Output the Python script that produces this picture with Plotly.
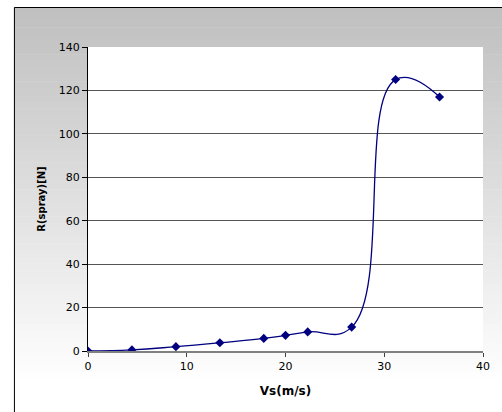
import plotly.graph_objects as go

# Data
vs = [0, 4.45, 8.9, 13.35, 17.8, 20.0, 22.25, 26.7, 31.15, 35.6]
r_spray = [0, 0.5, 2.0, 3.8, 5.8, 7.2, 8.8, 11.0, 125.0, 117.0]
x_ticks = [0, 10, 20, 30, 40]
y_ticks = [0, 20, 40, 60, 80, 100, 120, 140]
y_grid = [20, 40, 60, 80, 100, 120]

W, H = 502, 412
L, R, T, B = 88, 14, 47, 61
PW, PH = W - L - R, H - T - B


def px(xp):
    return (xp - L) / PW


def py(yp):
    return (H - B - yp) / PH


shapes = []
# gradient background bands (gray at top to white at bottom)
n = 60
y0p, y1p = 7, 412
for i in range(n):
    a = y0p + (y1p - y0p) * i / n
    b = y0p + (y1p - y0p) * (i + 1) / n
    t = min(1.0, (a - y0p) / 370)
    g = int(192 + (255 - 192) * t)
    col = f"rgb({g},{g},{g})"
    shapes.append(dict(type="rect", xref="paper", yref="paper",
                       x0=px(13), x1=px(520), y0=py(b + 0.5), y1=py(a),
                       fillcolor=col, line=dict(width=0), layer="below"))
# white plot area
shapes.append(dict(type="rect", xref="paper", yref="paper",
                   x0=0, x1=1, y0=0, y1=1,
                   fillcolor="white", line=dict(width=0), layer="below"))
# outer frame
shapes.append(dict(type="rect", xref="paper", yref="paper",
                   x0=px(13.5), x1=px(530), y0=py(430), y1=py(7.5),
                   fillcolor="rgba(0,0,0,0)", line=dict(color="black", width=1),
                   layer="below"))

fig = go.Figure()
# empty helper trace so the gridline axis (y2) is rendered
fig.add_trace(go.Scatter(x=[None], y=[None], yaxis="y2", mode="lines",
                         showlegend=False, hoverinfo="skip"))
fig.add_trace(go.Scatter(
    x=vs, y=r_spray, mode="lines+markers",
    line=dict(color="#000080", width=1.3, shape="spline", smoothing=1.3),
    marker=dict(symbol="diamond", size=7, color="#000080"),
    showlegend=False,
))

fig.update_layout(
    width=W, height=H,
    margin=dict(l=L, r=R, t=T, b=B, pad=0),
    paper_bgcolor="white",
    plot_bgcolor="white",
    shapes=shapes,
    font=dict(family="DejaVu Sans", size=11, color="black"),
    xaxis=dict(
        range=[0, 40], tickvals=x_ticks, ticktext=[str(v) for v in x_ticks],
        showgrid=False, zeroline=False,
        showline=True, linecolor="#808080", linewidth=1.5,
        ticks="outside", ticklen=4, tickcolor="#404040", tickwidth=1,
        tickfont=dict(size=11),
        title=dict(text="<b>Vs(m/s)</b>", font=dict(size=12), standoff=15),
    ),
    yaxis=dict(
        range=[0, 140], tickvals=y_ticks, ticktext=[str(v) for v in y_ticks],
        showgrid=False, zeroline=False,
        showline=True, linecolor="black", linewidth=1,
        ticks="outside", ticklen=5, tickcolor="black", tickwidth=1,
        tickfont=dict(size=11),
        title=dict(text="<b>R(spray)[N]</b>", font=dict(size=10), standoff=11),
    ),
    yaxis2=dict(
        overlaying="y", anchor="x", range=[0, 140], tickvals=y_grid,
        showgrid=True, gridcolor="#555555", gridwidth=1,
        showticklabels=False, ticks="", showline=False, zeroline=False,
    ),
)

fig.write_html("out.html", config={"displayModeBar": False},
               post_script="document.body.style.margin='0';")
